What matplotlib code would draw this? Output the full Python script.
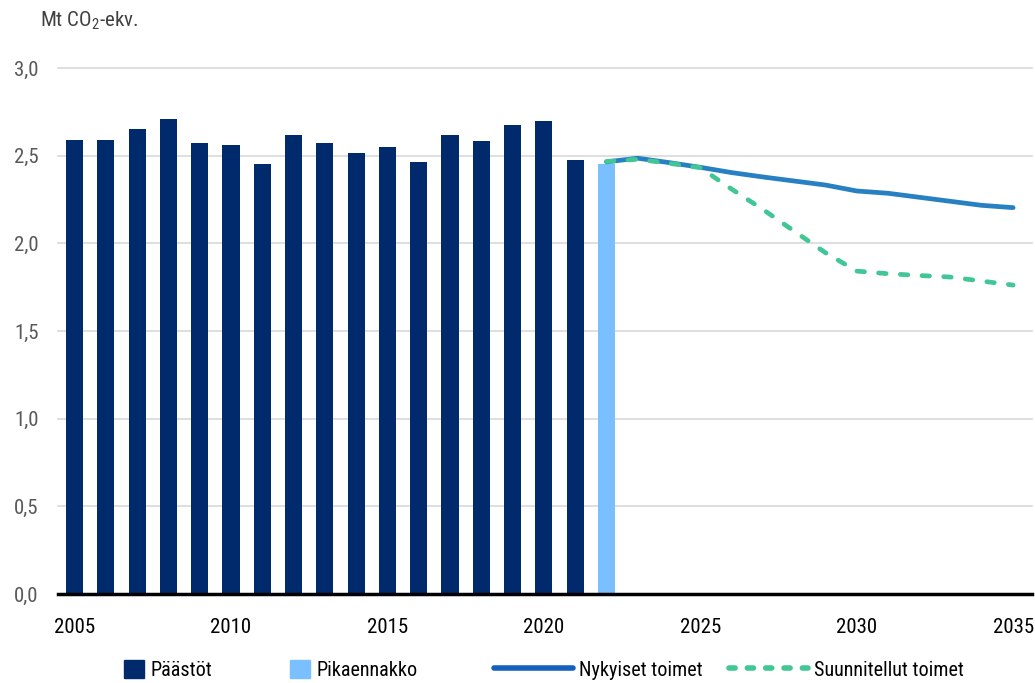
import matplotlib
matplotlib.use("Agg")
import matplotlib.pyplot as plt
from matplotlib import font_manager as fm
from matplotlib.lines import Line2D
from matplotlib.patches import Patch

years_hist = list(range(2005, 2022))
emissions = [2.59, 2.59, 2.65, 2.71, 2.57, 2.56, 2.455, 2.62, 2.57, 2.515,
             2.55, 2.467, 2.62, 2.583, 2.678, 2.70, 2.478]
year_flash = [2022]
flash = [2.453]
years_proj = list(range(2022, 2036))
current = [2.465, 2.486, 2.461, 2.434, 2.404, 2.379, 2.356, 2.333, 2.299,
           2.286, 2.263, 2.24, 2.217, 2.204]
planned = [2.467, 2.48, 2.457, 2.432, 2.31, 2.194, 2.07, 1.947, 1.842,
           1.827, 1.817, 1.808, 1.785, 1.762]
ytick_labels = ['0,0', '0,5', '1,0', '1,5', '2,0', '2,5', '3,0']
legend_labels = ['Päästöt', 'Pikaennakko', 'Nykyiset toimet', 'Suunnitellut toimet']

# pick a condensed font if one is available
names = {f.name for f in fm.fontManager.ttflist}
cond = [f for f in fm.fontManager.ttflist
        if f.stretch in ('condensed', 'semi-condensed', 'extra-condensed', 600, 700, 500)
        or 'Condensed' in f.name or 'Narrow' in f.name]
family = 'DejaVu Sans'
stretch = 'normal'
for cand in ['Liberation Sans Narrow', 'Roboto Condensed', 'Open Sans Condensed',
             'Noto Sans Condensed', 'DejaVu Sans Condensed']:
    if cand in names:
        family = cand
        break
else:
    for f in cond:
        if f.name in ('DejaVu Sans', 'Open Sans', 'Noto Sans', 'Roboto'):
            family = f.name
            stretch = 'condensed'
            break
plt.rcParams['font.family'] = [family, 'DejaVu Sans']
plt.rcParams['font.stretch'] = stretch
plt.rcParams['mathtext.default'] = 'regular'

navy = '#002A6C'
light = '#7ABFFF'
blue = '#2680C2'
green = '#41C795'

fig = plt.figure(figsize=(10.35, 6.83), dpi=100)
ax = fig.add_axes([0.056, 0.1303, 0.941, 0.77])

ax.bar(years_hist, emissions, width=0.55, color=navy, zorder=2)
ax.bar(year_flash, flash, width=0.55, color=light, zorder=2)
ax.plot(years_proj, current, color=blue, lw=3.4, solid_capstyle='round', zorder=3)
ax.plot(years_proj, planned, color=green, lw=3.4, linestyle=(0, (1.6, 3.0)),
        dash_capstyle='round', zorder=4)

ax.set_xlim(2004.47, 2035.6)
ax.set_ylim(0, 3.0)
ax.set_yticks([0, 0.5, 1.0, 1.5, 2.0, 2.5, 3.0])
ax.set_yticklabels(ytick_labels)
ax.set_xticks([2005, 2010, 2015, 2020, 2025, 2030, 2035])
ax.tick_params(axis='y', length=0, pad=14, labelsize=15, labelcolor='#595959')
ax.tick_params(axis='x', length=0, pad=17, labelsize=15, labelcolor='black')
ax.yaxis.grid(True, color='#D9D9D9', lw=1.2, zorder=0)
ax.set_axisbelow(True)
for s in ['top', 'right', 'left']:
    ax.spines[s].set_visible(False)
ax.spines['bottom'].set_color('black')
ax.spines['bottom'].set_linewidth(2.5)
ax.spines['bottom'].set_zorder(5)
for gl in ax.get_ygridlines():
    gl.set_clip_on(False)

fig.text(40/1035, 1 - 21/683, 'Mt CO$_2$-ekv.', fontsize=15, color='#404040',
         ha='left', va='center')

handles = [Patch(color=navy), Patch(color=light),
           Line2D([], [], color='#1560BD', lw=4, solid_capstyle='round'),
           Line2D([], [], color=green, lw=4, linestyle=(0, (1.1, 2.2)),
                  dash_capstyle='round')]
xs = [124, 290, 494, 729]
hl = [1.0, 1.0, 3.9, 3.9]
for h, lab, x, l in zip(handles, legend_labels, xs, hl):
    fig.legend([h], [lab], loc='center left', bbox_to_anchor=(x/1035, 1 - 670/683),
               frameon=False, fontsize=14.5, handlelength=l, handletextpad=0.3,
               borderpad=0, borderaxespad=0, handleheight=1.0)

fig.savefig('out.png', dpi=100)
